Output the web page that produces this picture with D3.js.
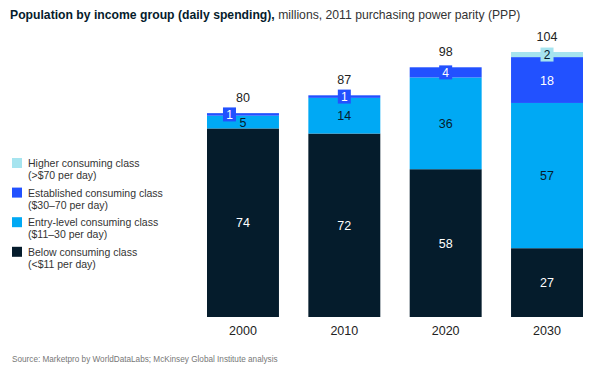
<!DOCTYPE html>
<html><head><meta charset="utf-8">
<script src="https://cdn.jsdelivr.net/npm/d3@7"></script>
<style>body{margin:0;background:#fff}svg{display:block;font-family:"Liberation Sans",Arial,sans-serif}</style>
</head><body>
<svg id="c" width="600" height="379"></svg>
<script>
const years = ["2000","2010","2020","2030"];
const below = [74,72,58,27];
const entry = [5,14,36,57];
const established = [1,1,4,18];
const higher = [0,0,0,2];
const totals = [80,87,98,104];
const seriesKeys = ["below","entry","established","higher"];
const seriesNames = [["Higher consuming class","(>$70 per day)"],["Established consuming class","($30–70 per day)"],["Entry-level consuming class","($11–30 per day)"],["Below consuming class","(<$11 per day)"]];
const colors = {below:"#051c2c", entry:"#00a9f4", established:"#2251ff", higher:"#a6e4ef"};
const textColors = {below:"#fff", entry:"#051c2c", established:"#fff", higher:"#051c2c"};

const rows = years.map((y,i)=>({year:y, below:below[i], entry:entry[i], established:established[i], higher:higher[i], total:totals[i]}));
const svg = d3.select("#c");
const x = d3.scaleBand().domain(years).range([207,583]).paddingInner(0.29).paddingOuter(0);
const y = d3.scaleLinear().domain([0,104]).range([317,52]);
const stack = d3.stack().keys(seriesKeys)(rows);

// title
const t = svg.append("text").attr("x",10).attr("y",19).attr("font-size",12.2).attr("fill","#051c2c");
t.append("tspan").attr("font-weight","bold").text("Population by income group (daily spending),");
t.append("tspan").attr("fill","#333").text(" millions, 2011 purchasing power parity (PPP)");

// bars
const g = svg.append("g");
stack.forEach(s=>{
  g.selectAll(null).data(s.filter(d=>d[1]-d[0]>0)).join("rect")
    .attr("x",d=>x(d.data.year)).attr("width",x.bandwidth())
    .attr("y",d=>y(d[1])).attr("height",d=>y(d[0])-y(d[1]))
    .attr("fill",colors[s.key]);
});

// segment labels
stack.forEach(s=>{
  const isSmall = d => (s.key==="established" && d.data.established<10) || s.key==="higher";
  s.filter(d=>d[1]-d[0]>0).forEach(d=>{
    const cx = x(d.data.year)+x.bandwidth()/2;
    const cy = (y(d[0])+y(d[1]))/2;
    const v = d[1]-d[0];
    if(isSmall(d)){
      const off = (d.data.year==="2000") ? -13.5 : 0;
      g.append("rect").attr("x",cx+off-6.5).attr("y",cy-7).attr("width",13).attr("height",14).attr("fill",colors[s.key]);
      g.append("text").attr("x",cx+off).attr("y",cy).attr("dy","0.36em").attr("text-anchor","middle")
        .attr("font-size",12).attr("fill",textColors[s.key]).text(v);
    } else {
      g.append("text").attr("x",cx).attr("y",cy).attr("dy","0.36em").attr("text-anchor","middle")
        .attr("font-size",12.5).attr("fill",textColors[s.key]).text(v);
    }
  });
});

// totals
g.selectAll(null).data(rows).join("text")
  .attr("x",d=>x(d.year)+x.bandwidth()/2).attr("y",d=>y(d.total)-11)
  .attr("text-anchor","middle").attr("font-size",12.5).attr("fill","#222").text(d=>d.total);

// x axis
const ax = svg.append("g").attr("transform","translate(0,317)").call(d3.axisBottom(x).tickSize(0).tickPadding(9));
ax.select(".domain").remove();
ax.selectAll("text").attr("font-size",12.5).attr("fill","#222").attr("font-family","Liberation Sans, Arial, sans-serif");

// legend
const legKeys = ["higher","established","entry","below"];
legKeys.forEach((k,i)=>{
  const ly = 158 + i*29.6;
  svg.append("rect").attr("x",12).attr("y",ly).attr("width",10).attr("height",10).attr("fill",colors[k]);
  svg.append("text").attr("x",28).attr("y",ly+9).attr("font-size",10.5).attr("fill","#333").text(seriesNames[i][0]);
  svg.append("text").attr("x",28).attr("y",ly+21).attr("font-size",10.5).attr("fill","#333").text(seriesNames[i][1]);
});

// source
svg.append("text").attr("x",12).attr("y",362).attr("font-size",8.2).attr("fill","#777")
  .text("Source: Marketpro by WorldDataLabs; McKinsey Global Institute analysis");
</script>
</body></html>
